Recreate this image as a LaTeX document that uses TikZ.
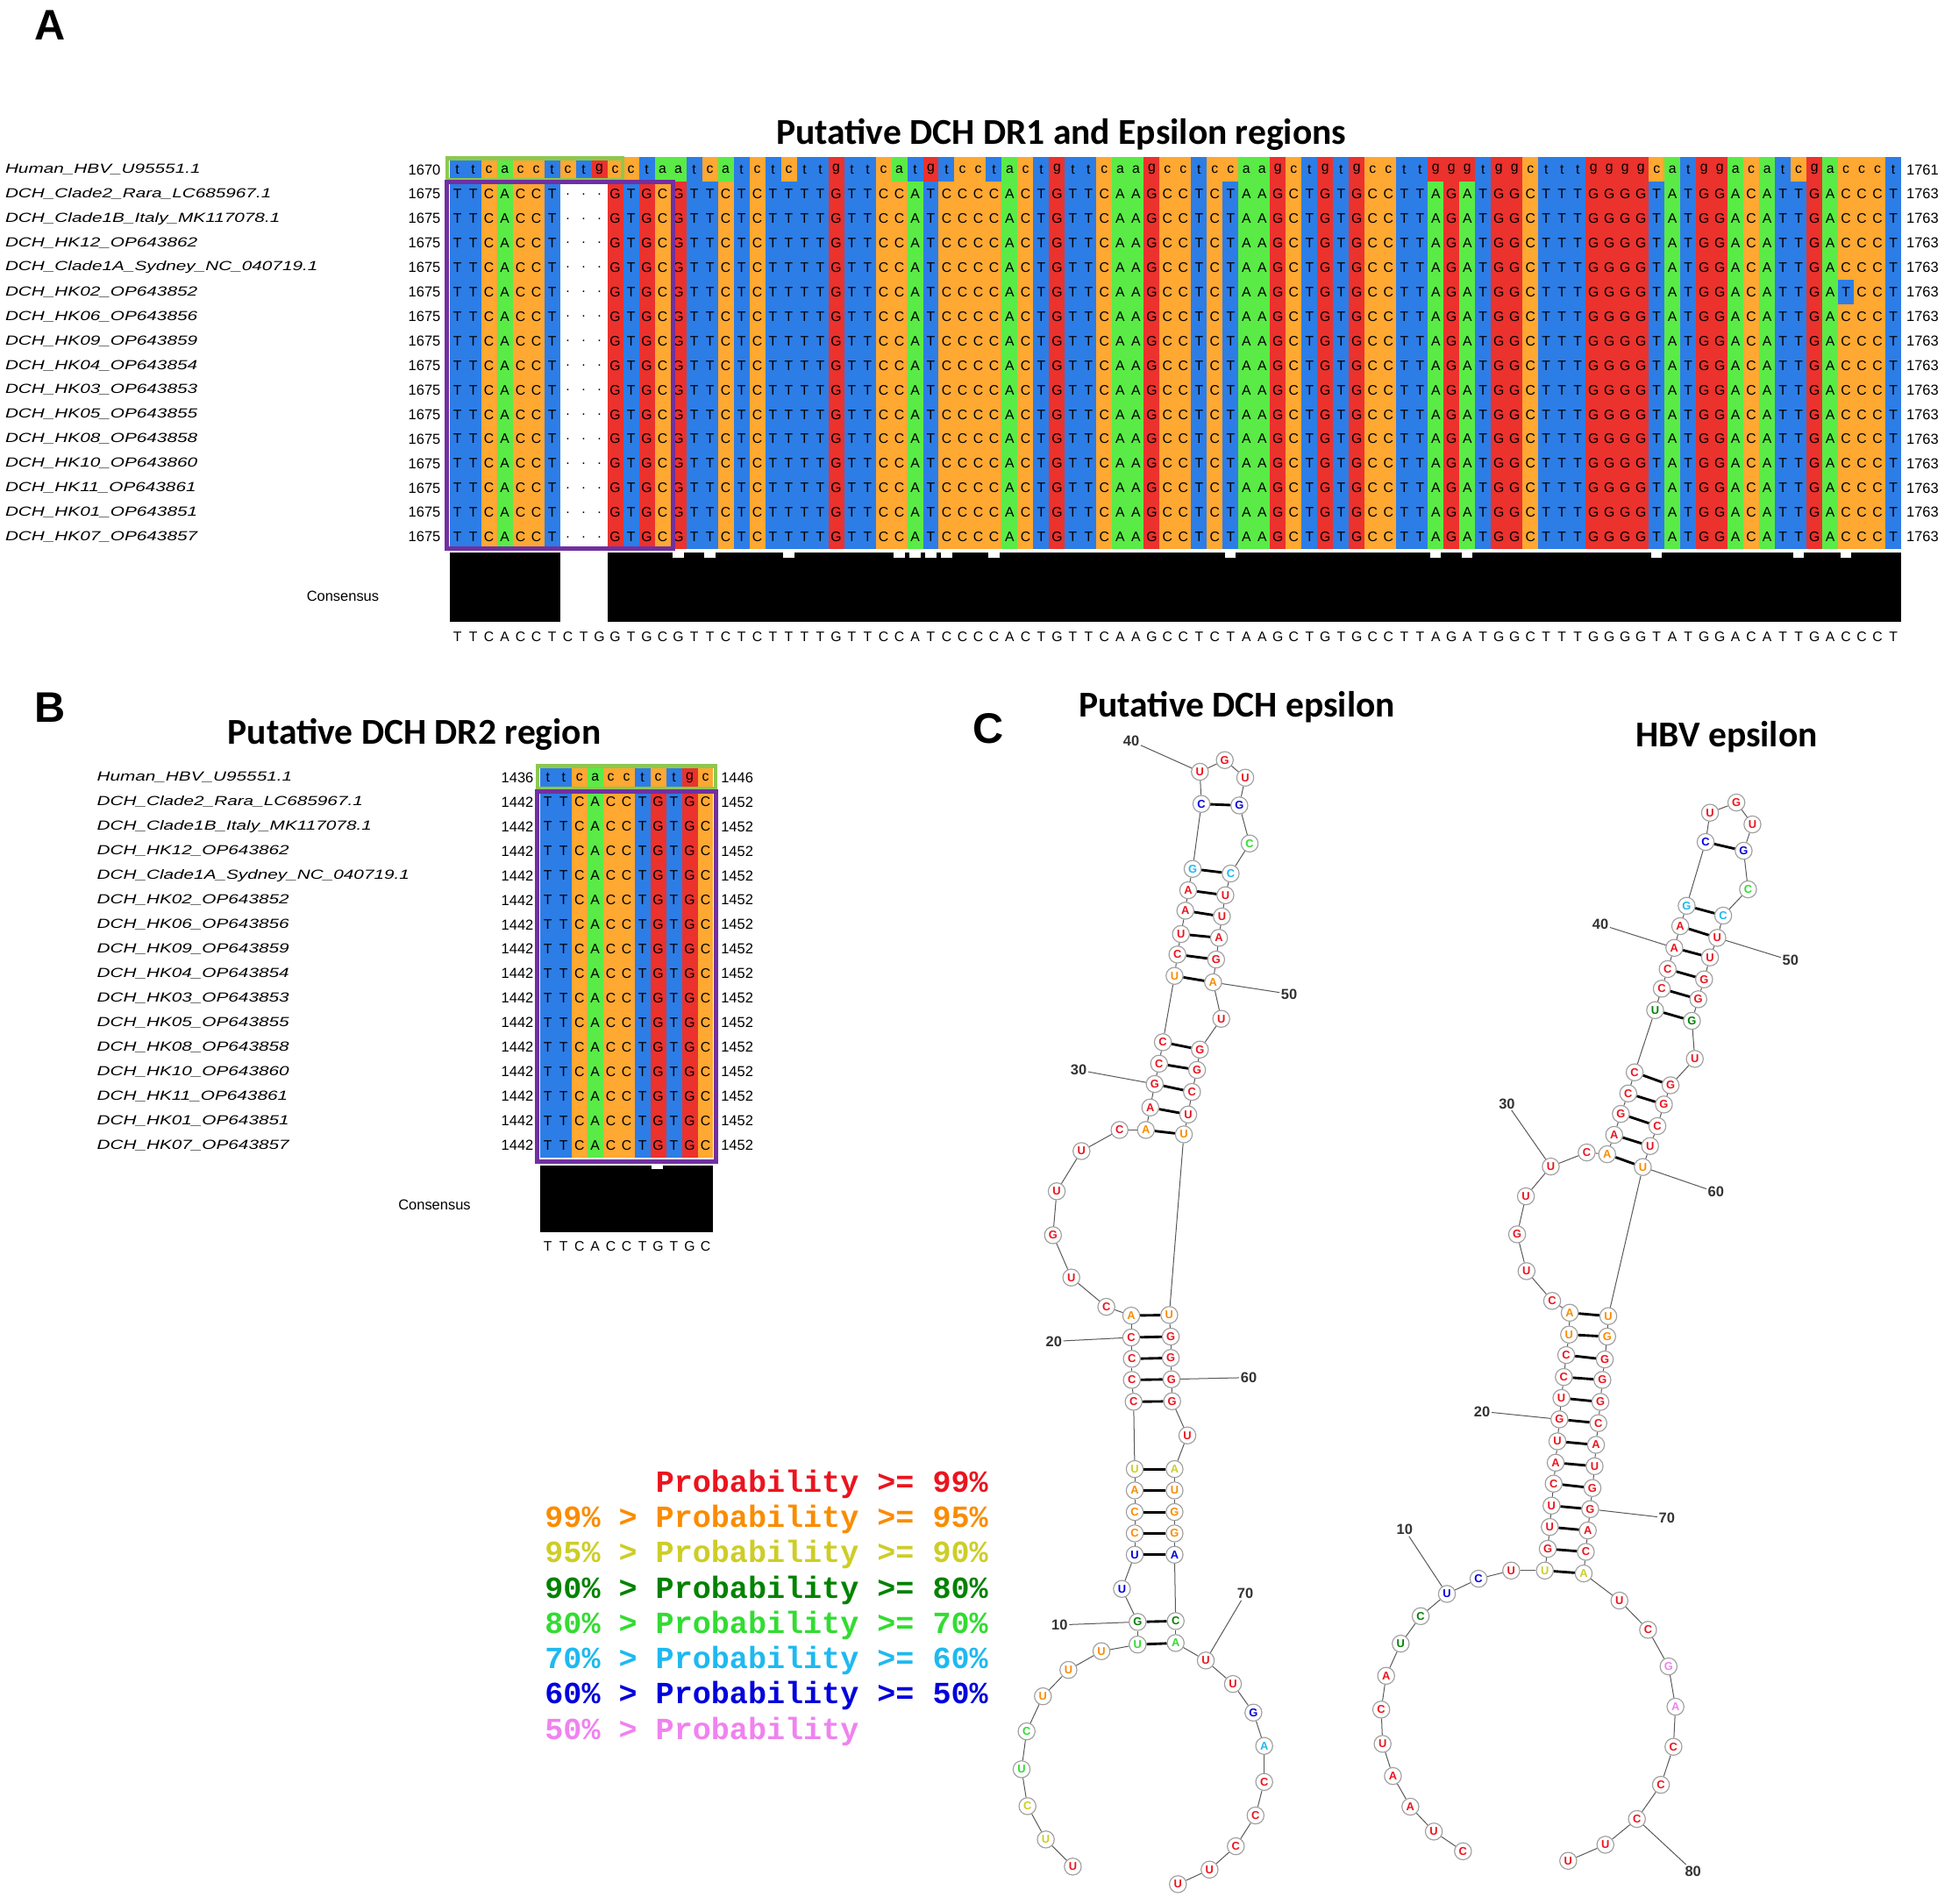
\documentclass[tikz,border=0pt]{standalone}
\usepackage{fontspec}
\usepackage{xstring}
\setmainfont{Liberation Sans}
\newfontfamily\titlefont{Carlito}
\newfontfamily\legfont{Liberation Mono}
\definecolor{ntA}{RGB}{90,235,70}
\definecolor{ntC}{RGB}{255,168,50}
\definecolor{ntG}{RGB}{235,50,45}
\definecolor{ntT}{RGB}{45,125,230}
\colorlet{nta}{ntA}\colorlet{ntc}{ntC}\colorlet{ntg}{ntG}\colorlet{ntt}{ntT}
\definecolor{cR}{RGB}{235,20,30}
\definecolor{cO}{RGB}{250,140,0}
\definecolor{cY}{RGB}{205,205,40}
\definecolor{cDG}{RGB}{0,130,0}
\definecolor{cLG}{RGB}{50,220,50}
\definecolor{cCy}{RGB}{30,185,240}
\definecolor{cB}{RGB}{0,0,220}
\definecolor{cP}{RGB}{240,130,240}
\definecolor{boxgreen}{RGB}{140,200,80}
\definecolor{boxpurple}{RGB}{112,48,160}
\newcommand\alnrow[4]{%
  \StrLen{#4}[\alnlen]%
  \foreach \i in {1,...,\alnlen}{%
    \StrChar{#4}{\i}[\alnch]%
    \pgfmathsetmacro\xx{#1+(\i-1)*#2}%
    \IfStrEq{\alnch}{-}{\def\alncol{white}\def\alntxt{.}}{\edef\alncol{nt\alnch}\let\alntxt\alnch}%
    \fill[\alncol] (\xx,#3-9.75) rectangle ++(#2,19.5);
    \node[cell] at (\xx+#2/2,#3) {\alntxt};
  }}
\newcommand\constxt[4]{%
  \StrLen{#4}[\alnlen]%
  \foreach \i in {1,...,\alnlen}{%
    \StrChar{#4}{\i}[\alnch]%
    \pgfmathsetmacro\xx{#1+(\i-0.5)*#2}%
    \node[cell] at (\xx,#3) {\alnch};
  }}
\tikzset{
  cell/.style={inner sep=0,font=\fontsize{11}{11}\selectfont},
  seqname/.style={anchor=west,inner sep=0,font=\itshape\fontsize{10.5}{10.5}\selectfont},
  posnum/.style={inner sep=0,font=\fontsize{11.5}{11.5}\selectfont},
  paneltitle/.style={font=\titlefont\bfseries\fontsize{29}{29}\selectfont},
  panelletter/.style={font=\bfseries\fontsize{34}{34}\selectfont},
  nuc/.style={circle,draw=gray!75,line width=0.8,fill=white,inner sep=0,minimum size=13.5,font=\bfseries\fontsize{9}{9}\selectfont},
  bb/.style={gray!70!black,line width=0.7},
  bp/.style={black,line width=2},
  numlab/.style={font=\bfseries\fontsize{11.5}{11.5}\selectfont,text=black!80,inner sep=1},
  numline/.style={gray!70!black,line width=0.7},
  leg/.style={font=\legfont\bfseries\fontsize{24.5}{24.5}\selectfont,inner sep=0}
}
\begin{document}
\begin{tikzpicture}[x=1pt,y=-1pt]
\useasboundingbox (0,0) rectangle (1560,1516);
% ---------- Panel A
\node[panelletter] (lA) at (40,20) {A};
\node[paneltitle] (tA) at (845,107) {Putative DCH DR1 and Epsilon regions};
\def\hs{ttcacctctgcctaatcatctcttgttcatgtcctactgttcaagcctccaagctgtgccttgggtggctttggggcatggacatcgaccct}
\def\ds{TTCACCT---GTGCGTTCTCTTTTGTTCCATCCCCACTGTTCAAGCCTCTAAGCTGTGCCTTAGATGGCTTTGGGGTATGGACATTGACCCT}
\def\dsb{TTCACCT---GTGCGTTCTCTTTTGTTCCATCCCCACTGTTCAAGCCTCTAAGCTGTGCCTTAGATGGCTTTGGGGTATGGACATTGATCCT}
\alnrow{358}{12.565}{135}{\hs}
\foreach \r in {1,2,3,4,6,7,8,9,10,11,12,13,14,15}{\alnrow{358}{12.565}{135+19.5*\r}{\ds}}
\alnrow{358}{12.565}{135+19.5*5}{\dsb}
\foreach \nm [count=\r from 0] in {Human\_HBV\_U95551.1,DCH\_Clade2\_Rara\_LC685967.1,DCH\_Clade1B\_Italy\_MK117078.1,DCH\_HK12\_OP643862,DCH\_Clade1A\_Sydney\_NC\_040719.1,DCH\_HK02\_OP643852,DCH\_HK06\_OP643856,DCH\_HK09\_OP643859,DCH\_HK04\_OP643854,DCH\_HK03\_OP643853,DCH\_HK05\_OP643855,DCH\_HK08\_OP643858,DCH\_HK10\_OP643860,DCH\_HK11\_OP643861,DCH\_HK01\_OP643851,DCH\_HK07\_OP643857}{
  \node[seqname] at (4,135+19.5*\r) {\scalebox{1.38}[1]{\nm}};
  \node[seqname] at (77,619+19.53*\r) {\scalebox{1.38}[1]{\nm}};
  \ifnum\r=0
    \node[posnum,anchor=east] at (351,135) {1670};
    \node[posnum,anchor=west] at (1518,135) {1761};
    \node[posnum,anchor=east] at (425,619) {1436};
    \node[posnum,anchor=west] at (574,619) {1446};
  \else
    \node[posnum,anchor=east] at (351,135+19.5*\r) {1675};
    \node[posnum,anchor=west] at (1518,135+19.5*\r) {1763};
    \node[posnum,anchor=east] at (425,619+19.53*\r) {1442};
    \node[posnum,anchor=west] at (574,619+19.53*\r) {1452};
  \fi
}
\draw[boxgreen,line width=3] (356,126) rectangle (496,143);
\draw[boxpurple,line width=3.5] (356,145) rectangle (536,437);
% consensus A
\fill[black] (358,440) rectangle (1514,495);
\fill[white] (446,440) rectangle (484,495);
\foreach \c in {15,17,22,29,30,31,32,35,50,63,65,77,86,89}{
  \fill[white] (358+\c*12.565-12.565+2,439) rectangle ++(8.5,5);}
\node[posnum] (consA) at (273,475) {Consensus};
\constxt{358}{12.565}{507}{TTCACCTCTGGTGCGTTCTCTTTTGTTCCATCCCCACTGTTCAAGCCTCTAAGCTGTGCCTTAGATGGCTTTGGGGTATGGACATTGACCCT}
% ---------- Panel B
\node[panelletter] (lB) at (40,563) {B};
\node[paneltitle] (tB) at (330,585) {Putative DCH DR2 region};
\alnrow{430}{12.55}{619}{ttcacctctgc}
\foreach \r in {1,...,15}{\alnrow{430}{12.55}{619+19.53*\r}{TTCACCTGTGC}}
\draw[boxgreen,line width=3] (428,610) rectangle (570,628);
\draw[boxpurple,line width=3.5] (428,630) rectangle (570,925);
\fill[black] (430,928) rectangle (568,981);
\fill[white] (519,927) rectangle ++(9,4);
\node[posnum] (consB) at (346,959) {Consensus};
\constxt{430}{12.55}{992}{TTCACCTGTGC}
% ---------- legend
\node[leg,anchor=east,text=cR] (g1) at (787,1182) {Probability >= 99\%};
\node[leg,anchor=east,text=cO] (g2) at (787,1210) {99\% > Probability >= 95\%};
\node[leg,anchor=east,text=cY] (g3) at (787,1238) {95\% > Probability >= 90\%};
\node[leg,anchor=east,text=cDG] (g4) at (787,1266) {90\% > Probability >= 80\%};
\node[leg,anchor=east,text=cLG] (g5) at (787,1294) {80\% > Probability >= 70\%};
\node[leg,anchor=east,text=cCy] (g6) at (787,1322) {70\% > Probability >= 60\%};
\node[leg,anchor=east,text=cB] (g7) at (787,1350) {60\% > Probability >= 50\%};
\node[leg,anchor=west,text=cP] (g8) at (g7.west |- 0,1379) {50\% > Probability};
% ---------- Panel C
\node[panelletter] (lC) at (787,580) {C};
\node[paneltitle] (tC1) at (985,563) {Putative DCH epsilon};
\node[paneltitle] (tC2) at (1375,587) {HBV epsilon};
% DCH structure
\foreach \x/\y/\l/\c [count=\i] in {
854.3/1486.2/U/cR,832.8/1464.6/U/cY,818.2/1438.1/C/cY,813.5/1408.7/U/cLG,817.5/1378.5/C/cLG,
830.5/1350.6/U/cO,850.8/1329.6/U/cO,877.1/1314.7/U/cO,905.9/1309.4/U/cLG,905.9/1291.4/G/cDG,
893.4/1265.1/U/cB,903.6/1237.9/U/cB,903.6/1220.9/C/cO,903.6/1203.9/C/cO,903.6/1186.7/A/cO,
903.6/1169.7/U/cY,902.7/1116.1/C/cR,901.3/1098.7/C/cR,901.3/1081.9/C/cR,900.8/1064.9/C/cR,
900.8/1047.5/A/cO,881/1040.5/C/cR,853.1/1017.2/U/cR,838.5/983.5/G/cR,841.5/948.5/U/cR,
861.2/916.5/U/cR,891.5/899.7/C/cR,912.5/899.7/A/cO,916/881.8/A/cR,919.5/863.1/G/cR,
923/846.9/C/cR,926/829.8/C/cR,935.3/777/U/cO,937.6/760/C/cR,940.4/743.7/U/cR,
943.9/725.1/A/cR,946.2/708.8/A/cR,949.7/691.8/G/cCy,956.7/640.1/C/cB,955.5/614.5/U/cR,
975.3/605.2/G/cR,991.6/619.2/U/cR,986.9/641.3/G/cB,995.1/671.6/C/cLG,980/695.5/C/cCy,
975.8/712.8/U/cR,973/729.7/U/cR,970.7/746.7/A/cR,968.4/764/G/cR,966/782.1/A/cO,
972.5/811.2/U/cR,955.5/835.7/G/cR,953.2/851.9/G/cR,949.2/869.4/C/cR,946.2/887.4/U/cR,
942.7/903.2/U/cO,931.1/1047/U/cO,932.3/1064.2/G/cR,932.3/1081.2/G/cR,932.9/1098.2/G/cR,
933.4/1115.7/G/cR,945.5/1142.9/U/cR,935.3/1169.7/A/cY,935.3/1186.7/U/cO,935.3/1203.9/G/cO,
935.3/1220.9/G/cO,935.3/1237.9/A/cB,936.2/1290.7/C/cDG,936.2/1308.2/A/cLG,960.2/1322.1/U/cR,
981.8/1340.8/U/cR,998.1/1363.6/G/cB,1006.7/1390.1/A/cCy,1006.7/1418.8/C/cR,999.8/1445.5/C/cR,
984.1/1470/C/cR,963.2/1488.6/U/cR,938/1500.2/U/cR}
  {\node[nuc,text=\c] (d\i) at (\x,\y) {\l};}
\foreach \i [evaluate=\i as \j using int(\i+1)] in {1,...,77} \draw[bb] (d\i) -- (d\j);
\foreach \a/\b in {10/68,9/69,12/67,13/66,14/65,15/64,16/63,17/61,18/60,19/59,20/58,21/57,28/56,29/55,30/54,31/53,32/52,33/50,34/49,35/48,36/47,37/46,38/45,39/43}
  \draw[bp] (d\a) -- (d\b);
\foreach \n/\x/\y in {10/843.8/1293.8,20/839.2/1068,30/859/852,40/900.8/590,50/1026.5/791.4,60/994.4/1096.8,70/991.6/1269}{
  \node[numlab] (dl\n) at (\x,\y) {\n};
  \draw[numline] (dl\n) -- (d\n);}
% HBV structure
\foreach \x/\y/\l/\c [count=\i] in {
1165/1474/C/cR,1141.8/1458.3/U/cR,1123.1/1438.5/A/cR,1109.2/1414.1/A/cR,1101/1388.5/U/cR,
1099.9/1361.2/C/cR,1103.8/1334.3/A/cR,1115.4/1308.7/U/cDG,1131.3/1286.8/C/cDG,1152.2/1269.1/U/cB,
1177.4/1257/C/cB,1203.4/1250.5/U/cR,1230.2/1250.5/U/cY,1232.5/1233.2/G/cR,1234.1/1215.8/U/cR,
1235.5/1198.8/U/cR,1237.2/1181.3/C/cR,1238.8/1164.6/A/cR,1240.2/1147.6/U/cR,1241.8/1130.1/G/cR,
1243.4/1113.1/U/cR,1245.3/1096.4/C/cR,1247.2/1078.9/C/cR,1249.5/1062.6/U/cO,1250/1045.2/A/cO,
1236/1035.8/C/cR,1215.6/1012.1/U/cR,1208.1/982.8/G/cR,1215.1/952.5/U/cR,1234.9/928.8/U/cR,
1263.5/917.6/C/cR,1279.8/919/A/cO,1285.4/903.6/A/cR,1290.7/886.9/G/cR,1296.6/870.6/C/cR,
1301.7/853.8/C/cR,1318/804.3/U/cDG,1323.3/787.2/C/cR,1328/771.6/C/cR,1333.3/754.7/A/cR,
1338/737.4/A/cR,1343.1/721.2/G/cCy,1358.2/670.4/C/cB,1361.7/647.1/U/cR,1382.7/639/G/cR,
1395.5/656.4/U/cR,1388.5/677.4/G/cB,1392/708.1/C/cLG,1372.2/729/C/cCy,1367.5/746.7/U/cR,
1361.7/762.3/U/cR,1357/779.8/G/cR,1352.4/795.6/G/cR,1347.3/812.8/G/cDG,1349.6/843.1/U/cR,
1330.3/864.1/G/cR,1325/879.4/G/cR,1319.8/896.6/C/cR,1314/912.5/U/cR,1308.2/929.2/U/cO,
1280.7/1047.9/U/cO,1279.8/1064.2/G/cO,1277.9/1082.4/G/cR,1276/1098.7/G/cR,1274.4/1116.2/G/cR,
1272.8/1133.1/C/cR,1270.9/1150.4/A/cR,1269.8/1167.4/U/cR,1268.1/1184.8/G/cR,1266.3/1201.6/G/cR,
1264.4/1218.6/A/cR,1262.8/1235.6/C/cR,1261.1/1252.8/A/cY,1289.6/1274.4/U/cR,1312.4/1297.7/C/cR,
1328.7/1326.8/G/cP,1334.2/1358.9/A/cP,1332.6/1390.8/C/cR,1322.6/1421.1/C/cR,1303.5/1448.3/C/cR,
1278.4/1468.8/U/cR,1248.8/1481.6/U/cR}
  {\node[nuc,text=\c] (h\i) at (\x,\y) {\l};}
\foreach \i [evaluate=\i as \j using int(\i+1)] in {1,...,81} \draw[bb] (h\i) -- (h\j);
\foreach \a/\b in {13/73,14/72,15/71,16/70,17/69,18/68,19/67,20/66,21/65,22/64,23/63,24/62,25/61,32/60,33/59,34/58,35/57,36/56,37/54,38/53,39/52,40/51,41/50,42/49,43/47}
  \draw[bp] (h\a) -- (h\b);
\foreach \n/\x/\y in {10/1118.5/1217.9,20/1180.2/1123.8,30/1200/878.7,40/1274.4/736,50/1425.8/764.7,60/1366.4/949.2,70/1327.3/1208.6,80/1348.2/1489.8}{
  \node[numlab] (hl\n) at (\x,\y) {\n};
  \draw[numline] (hl\n) -- (h\n);}
\end{tikzpicture}
\end{document}
